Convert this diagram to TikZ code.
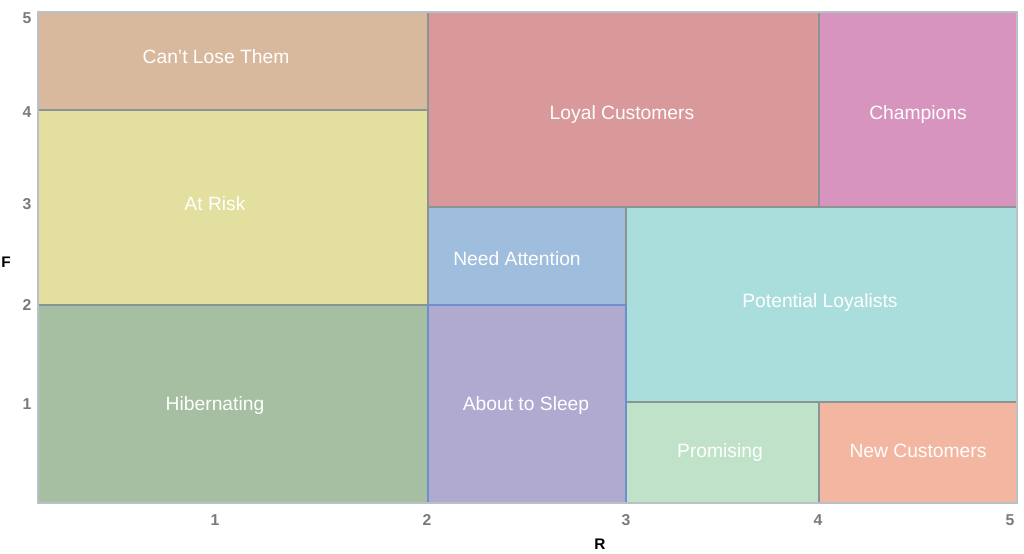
\documentclass[tikz,border=0pt]{standalone}
\usepackage{fontspec}
\setmainfont{Liberation Sans}
\usetikzlibrary{positioning}
\definecolor{cantlose}{HTML}{D8B99D}
\definecolor{atrisk}{HTML}{E3DF9E}
\definecolor{hibernating}{HTML}{A6BEA1}
\definecolor{loyal}{HTML}{D9989A}
\definecolor{champions}{HTML}{D794BE}
\definecolor{attention}{HTML}{9FBDDC}
\definecolor{sleep}{HTML}{B0A9D0}
\definecolor{potential}{HTML}{AADEDD}
\definecolor{promising}{HTML}{BFE2C8}
\definecolor{newcust}{HTML}{F3B6A0}
\definecolor{edgegray}{HTML}{8A9593}
\definecolor{sleepedge}{HTML}{6E8FCC}
\definecolor{framegray}{HTML}{B9C1C8}
\definecolor{tickgray}{HTML}{7A7A7A}
\tikzset{
  segment/.style={fill=#1, draw=edgegray, line width=0.8pt},
  seglabel/.style={text=white, font=\fontsize{13.7}{16}\selectfont, inner sep=0pt, text depth=0pt},
  ticklabel/.style={text=tickgray, font=\fontsize{11.2}{13}\selectfont\bfseries, inner sep=0pt},
  axislabel/.style={text=black, font=\fontsize{10.9}{13}\selectfont\bfseries, inner sep=0pt}
}

\begin{document}
\begin{tikzpicture}[x=0.025cm, y=-0.025cm]
  \useasboundingbox (0,0) rectangle (1024,553);

  \draw[segment=cantlose]    (38,12)   rectangle (428,110);
  \draw[segment=atrisk]      (38,110)  rectangle (428,305);
  \draw[segment=hibernating] (38,305)  rectangle (428,503);
  \draw[segment=loyal]       (428,12)  rectangle (819,207);
  \draw[segment=champions]   (819,12)  rectangle (1017,207);
  \draw[segment=attention]   (428,207) rectangle (626,305);
  \draw[segment=potential]   (626,207) rectangle (1017,402);
  \draw[segment=promising]   (626,402) rectangle (819,503);
  \draw[segment=newcust]     (819,402) rectangle (1017,503);
  \draw[segment=sleep, draw=sleepedge] (428,305) rectangle (626,503);
  \draw[framegray, line width=0.8pt] (38,12) rectangle (1017,503);

  \node[seglabel] (cantlose)    at (216,57)  {Can’t Lose Them};
  \node[seglabel] (atrisk)      at (215,204) {At Risk};
  \node[seglabel] (hibernating) at (215,404) {Hibernating};
  \node[seglabel] (loyal)       at (622,113) {Loyal Customers};
  \node[seglabel] (champions)   at (918,113) {Champions};
  \node[seglabel] (attention)   at (517,259) {Need Attention};
  \node[seglabel] (sleep)       at (526,404) {About to Sleep};
  \node[seglabel] (potential)   at (820,301) {Potential Loyalists};
  \node[seglabel] (promising)   at (720,451) {Promising};
  \node[seglabel] (newcust)     at (918,451) {New Customers};

  \foreach \lab/\xpos in {1/215,2/427,3/626,4/818,5/1010}
    \node[ticklabel] (r\lab) at (\xpos,520) {\lab};
  \foreach \lab/\ypos in {5/18,4/112,3/204,2/305,1/404}
    \node[ticklabel] (f\lab) at (27,\ypos) {\lab};

  \node[axislabel] (rtitle) at (600,544) {R};
  \node[axislabel] (ftitle) at (6,262)   {F};
\end{tikzpicture}
\end{document}
